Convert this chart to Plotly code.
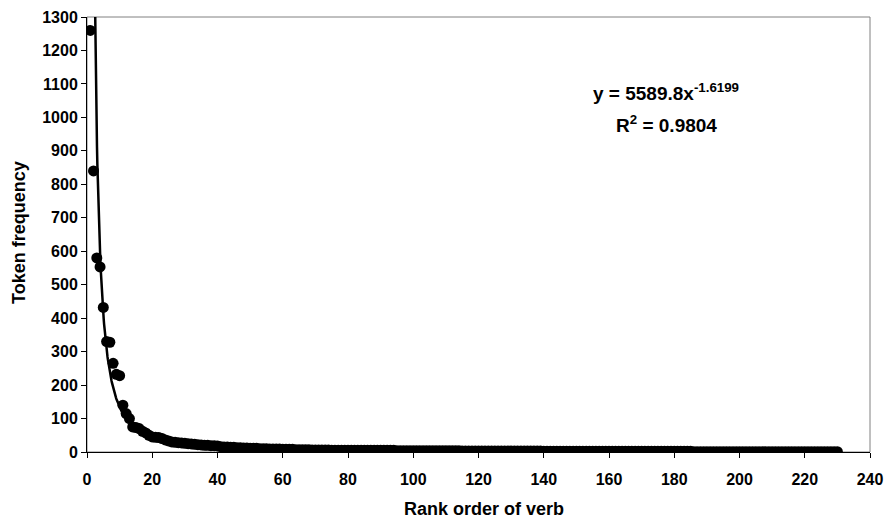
import numpy as np
import plotly.graph_objects as go

# Token frequency by rank
freq_head = [1260, 840, 580, 553, 432, 330, 328, 265, 232, 228,
             140, 115, 100, 75, 73, 70, 62, 57, 50, 45,
             44, 43, 40, 36, 33, 30, 29, 28, 27, 26,
             25, 24, 23, 22, 21, 20, 20, 19, 19, 18]
freq_mid = [16, 15, 15, 14, 14, 13, 13, 12, 12, 11,
            11, 11, 10, 10, 10, 9, 9, 9, 9, 8,
            8, 8, 8, 7, 7, 7, 7, 7, 6, 6,
            6, 6, 6, 6, 5, 5, 5, 5, 5, 5,
            5, 5, 5, 5, 5, 5, 5, 5, 5, 5,
            5, 5, 5, 5, 4, 4, 4, 4, 4, 4]
freq_tail = [4, 4, 4, 4, 4, 4, 4, 4, 4, 4,
             4, 4, 4, 4, 3, 3, 3, 3, 3, 3,
             3, 3, 3, 3, 3, 3, 3, 3, 3, 3,
             3, 3, 3, 3, 3, 3, 3, 3, 3, 2,
             2, 2, 2, 2, 2, 2, 2, 2, 2, 2,
             2, 2, 2, 2, 2, 2, 2, 2, 2, 2,
             2, 2, 2, 2, 2, 2, 2, 2, 2, 2,
             2, 2, 2, 2, 2, 2, 2, 2, 2, 2,
             2, 2, 2, 2, 2, 1, 1, 1, 1, 1,
             1, 1, 1, 1, 1, 1, 1, 1, 1, 1,
             1, 1, 1, 1, 1, 1, 1, 1, 1, 1,
             1, 1, 1, 1, 1, 1, 1, 1, 1, 1,
             1, 1, 1, 1, 1, 1, 1, 1, 1, 1]
frequency = freq_head + freq_mid + freq_tail
rank = list(range(1, len(frequency) + 1))

# Power trendline parameters shown on the chart
coef_a = 5589.8
coef_b = -1.6199
r_squared = 0.9804

x_ticks = list(range(0, 241, 20))
y_ticks = list(range(0, 1301, 100))

xt = np.linspace(1, 230, 2000)
yt = coef_a * xt ** coef_b

font_family = "Liberation Sans, Arial, sans-serif"

W, H = 887, 520
L, R, T, B = 87, 17, 17, 68
pw, ph = W - L - R, H - T - B


def px_x(p):
    return (p - L) / pw


def px_y(p):
    return (H - B - p) / ph


fig = go.Figure()
fig.add_trace(go.Scatter(x=xt, y=yt, mode="lines",
                         line=dict(color="black", width=2.5),
                         hoverinfo="skip", showlegend=False))
fig.add_trace(go.Scatter(x=rank, y=frequency, mode="markers",
                         marker=dict(color="black", size=11),
                         showlegend=False))

fig.add_shape(type="rect", xref="paper", yref="paper", x0=0, y0=0, x1=1, y1=1,
              line=dict(color="#808080", width=1), layer="below")

fig.update_layout(
    width=W, height=H,
    margin=dict(l=L, r=R, t=T, b=B, autoexpand=False),
    paper_bgcolor="white", plot_bgcolor="white",
    font=dict(family=font_family, color="black", size=16),
    xaxis=dict(range=[0, 240], tickvals=x_ticks, ticks="outside", ticklen=5,
               tickcolor="black", showline=True, linecolor="black", linewidth=1,
               showgrid=False, zeroline=False, ticklabelstandoff=8,
               tickfont=dict(size=16, weight="bold", family=font_family)),
    yaxis=dict(range=[0, 1300], tickvals=y_ticks, ticks="outside", ticklen=5,
               tickcolor="black", showline=True, linecolor="black", linewidth=1,
               showgrid=False, zeroline=False,
               tickfont=dict(size=16, weight="bold", family=font_family)),
)

# axis titles
fig.add_annotation(xref="paper", yref="paper", x=px_x(484), y=px_y(509),
                   xanchor="center", yanchor="middle",
                   text="Rank order of verb", showarrow=False,
                   font=dict(size=18, weight="bold", family=font_family))
fig.add_annotation(xref="paper", yref="paper", x=px_x(19), y=px_y(233),
                   xanchor="center", yanchor="middle",
                   text="Token frequency", showarrow=False, textangle=-90,
                   font=dict(size=18, weight="bold", family=font_family))

# trendline equation
fig.add_annotation(xref="paper", yref="paper", x=px_x(666), y=px_y(92),
                   xanchor="center", yanchor="middle",
                   text="y = %.1fx<sup>%.4f</sup>" % (coef_a, coef_b), showarrow=False,
                   font=dict(size=19, weight="bold", family=font_family))
fig.add_annotation(xref="paper", yref="paper", x=px_x(666), y=px_y(124),
                   xanchor="center", yanchor="middle",
                   text="R<sup>2</sup> = %.4f" % r_squared, showarrow=False,
                   font=dict(size=19, weight="bold", family=font_family))

fig.write_html("out.html", config={"displayModeBar": False},
               post_script="document.body.style.margin='0';")
